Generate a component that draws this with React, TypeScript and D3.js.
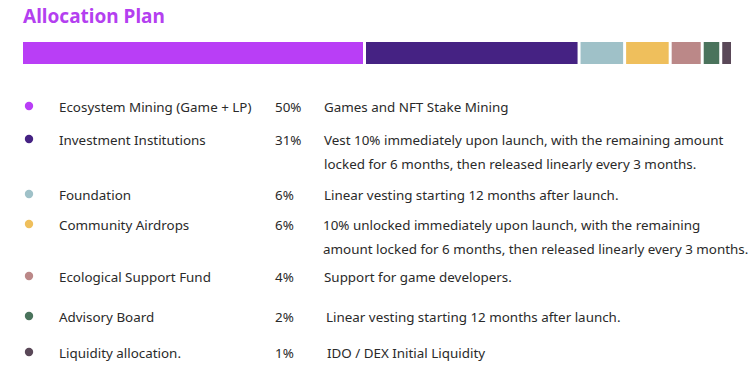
import React from "react";
import * as d3 from "d3";

const categories = [
  "Ecosystem Mining (Game + LP)",
  "Investment Institutions",
  "Foundation",
  "Community Airdrops",
  "Ecological Support Fund",
  "Advisory Board",
  "Liquidity allocation.",
];
const shares = [50, 31, 6, 6, 4, 2, 1];
const colors = ["#b93ef6", "#452283", "#9fc1c8", "#efbf5c", "#bb8888", "#4a735c", "#5a4858"];
const descriptions: string[][] = [
  ["Games and NFT Stake Mining"],
  [
    "Vest 10% immediately upon launch, with the remaining amount",
    "locked for 6 months, then released linearly every 3 months.",
  ],
  ["Linear vesting starting 12 months after launch."],
  [
    "10% unlocked immediately upon launch, with the remaining",
    "amount locked for 6 months, then released linearly every 3 months.",
  ],
  ["Support for game developers."],
  ["Linear vesting starting 12 months after launch."],
  ["IDO / DEX Initial Liquidity"],
];

const W = 756;
const H = 367;
const barX0 = 23;
const barX1 = 731;
const barY = 42;
const barH = 22;
const gap = 3;
const segPad = 2;

const rowY = [107, 140, 195, 225, 277, 317, 353];
const descX = [324, 324, 324, 323, 324, 326, 327];
const lineStep = 24;
const font = "'Noto Sans', 'Open Sans', sans-serif";

export default function App() {
  const total = d3.sum(shares);
  const usable = barX1 - barX0 - gap * (shares.length - 1) - segPad * shares.length;
  const w = d3.scaleLinear().domain([0, total]).range([0, usable]);
  const starts: number[] = [];
  let acc = barX0;
  shares.forEach((s) => {
    starts.push(acc);
    acc += w(s) + segPad + gap;
  });

  return (
    <div style={{ position: "absolute", left: 0, top: 0 }}>
      <svg width={W} height={H} style={{ display: "block", background: "#fff" }}>
        <text x={23} y={23} fontFamily={font} fontSize={19} fontWeight={700} fill="#b43ff0">
          Allocation Plan
        </text>
        {shares.map((s, i) => (
          <rect key={"b" + i} x={starts[i]} y={barY} width={w(s) + segPad} height={barH} fill={colors[i]} />
        ))}
        {categories.map((c, i) => (
          <g key={"r" + i} fontFamily={font} fontSize={13.4} fill="#2a2a2a">
            <circle cx={29} cy={rowY[i] - 1} r={4.2} fill={colors[i]} />
            <text x={59} y={rowY[i]} dominantBaseline="central">{c}</text>
            <text x={275} y={rowY[i]} dominantBaseline="central">{shares[i] + "%"}</text>
            {descriptions[i].map((d, j) => (
              <text key={j} x={descX[i]} y={rowY[i] + j * lineStep} dominantBaseline="central">
                {d}
              </text>
            ))}
          </g>
        ))}
      </svg>
    </div>
  );
}
